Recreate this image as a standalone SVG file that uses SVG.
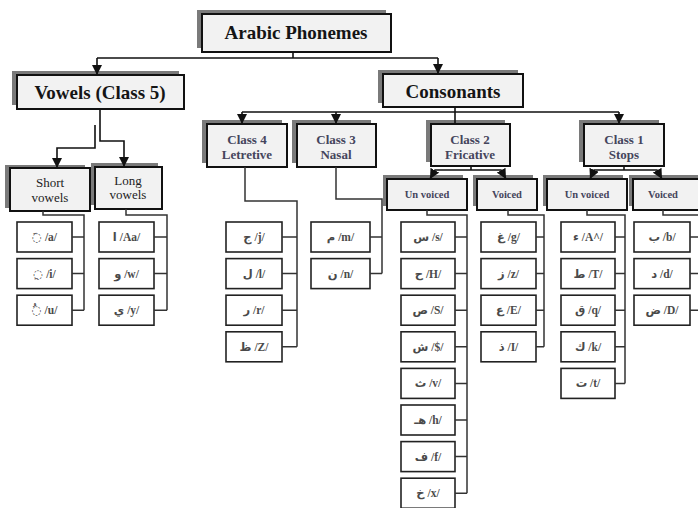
<svg xmlns="http://www.w3.org/2000/svg" width="698" height="508" viewBox="0 0 698 508">
<style>
.sh{fill:#7a7a7a}
.hb{fill:#f2f2f2;stroke:#111;stroke-width:2}
.ib{fill:#fff;stroke:#222;stroke-width:1.6}
.t1{font-family:"Liberation Serif","DejaVu Serif",serif;font-weight:bold;font-size:19px;fill:#151515;text-anchor:middle}
.t2{font-family:"Liberation Serif","DejaVu Serif",serif;font-weight:bold;font-size:13px;fill:#45455c;text-anchor:middle}
.t3{font-family:"Liberation Serif","DejaVu Serif",serif;font-size:13px;fill:#222;text-anchor:middle}
.t4{font-family:"Liberation Serif","DejaVu Serif",serif;font-weight:bold;font-size:10.5px;fill:#45455c;text-anchor:middle}
.ti{font-family:"Liberation Serif","DejaVu Sans",serif;font-weight:bold;font-size:11.5px;fill:#4a4a4a;text-anchor:middle}
.c{fill:none;stroke:#111;stroke-width:1.6}
.a{fill:none;stroke:#111;stroke-width:1.6;marker-end:url(#ar)}
.k{fill:none;stroke:#333;stroke-width:1.5}
</style>
<defs>
<marker id="ar" markerUnits="userSpaceOnUse" markerWidth="10" markerHeight="10" viewBox="0 0 10 10" refX="10" refY="5" orient="auto">
<path d="M0,0 L10,5 L0,10 z" fill="#111"/>
</marker>
</defs>
<g id="root">
<rect class="sh" x="197" y="10" width="189" height="38"/>
<rect class="hb" x="202" y="14" width="189" height="38"/>
<text class="t1" x="296" y="39">Arabic Phonemes</text>
</g>
<g id="vowels">
<rect class="sh" x="12" y="71" width="167" height="34"/>
<rect class="hb" x="17" y="75" width="167" height="34"/>
<text class="t1" x="100" y="99">Vowels (Class 5)</text>
</g>
<g id="consonants">
<rect class="sh" x="378" y="70" width="140" height="33"/>
<rect class="hb" x="383" y="74" width="140" height="33"/>
<text class="t1" x="453" y="98">Consonants</text>
</g>
<g id="short">
<rect class="sh" x="5" y="165" width="80" height="43"/>
<rect class="hb" x="10" y="168" width="80" height="43"/>
<text class="t3" x="50" y="187">Short</text>
<text class="t3" x="50" y="202">vowels</text>
</g>
<g id="long">
<rect class="sh" x="91" y="163" width="67" height="42"/>
<rect class="hb" x="95" y="167" width="67" height="42"/>
<text class="t3" x="128" y="185">Long</text>
<text class="t3" x="128" y="199">vowels</text>
</g>
<g id="class4">
<rect class="sh" x="202" y="120" width="80" height="43"/>
<rect class="hb" x="207" y="124" width="80" height="43"/>
<text class="t2" x="247" y="144">Class 4</text>
<text class="t2" x="247" y="159">Letretive</text>
</g>
<g id="class3">
<rect class="sh" x="292" y="120" width="79" height="43"/>
<rect class="hb" x="297" y="124" width="79" height="43"/>
<text class="t2" x="336" y="144">Class 3</text>
<text class="t2" x="336" y="159">Nasal</text>
</g>
<g id="class2">
<rect class="sh" x="426" y="120" width="79" height="42"/>
<rect class="hb" x="431" y="124" width="79" height="42"/>
<text class="t2" x="470" y="144">Class 2</text>
<text class="t2" x="470" y="159">Fricative</text>
</g>
<g id="class1">
<rect class="sh" x="579" y="120" width="80" height="42"/>
<rect class="hb" x="584" y="124" width="80" height="42"/>
<text class="t2" x="624" y="144">Class 1</text>
<text class="t2" x="624" y="159">Stops</text>
</g>
<g id="c2u">
<rect class="sh" x="383" y="175" width="80" height="31"/>
<rect class="hb" x="387" y="179" width="80" height="31"/>
<text class="t4" x="427" y="198">Un voiced</text>
</g>
<g id="c2v">
<rect class="sh" x="473" y="175" width="60" height="31"/>
<rect class="hb" x="477" y="179" width="60" height="31"/>
<text class="t4" x="507" y="198">Voiced</text>
</g>
<g id="c1u">
<rect class="sh" x="543" y="175" width="80" height="31"/>
<rect class="hb" x="547" y="179" width="80" height="31"/>
<text class="t4" x="587" y="198">Un voiced</text>
</g>
<g id="c1v">
<rect class="sh" x="629" y="175" width="71" height="31"/>
<rect class="hb" x="633" y="179" width="71" height="31"/>
<text class="t4" x="663" y="198">Voiced</text>
</g>
<g id="sv1"><rect class="ib" x="17" y="222" width="55" height="30"/><text class="ti" x="44.5" y="241">◌َ /a/</text></g>
<g id="sv2"><rect class="ib" x="17" y="258.6" width="55" height="30"/><text class="ti" x="44.5" y="277.6">◌ِ /i/</text></g>
<g id="sv3"><rect class="ib" x="17" y="295.2" width="55" height="30"/><text class="ti" x="44.5" y="314.2">◌ُ /u/</text></g>
<g id="lv1"><rect class="ib" x="99" y="222" width="55" height="30"/><text class="ti" x="126.5" y="241">ا /Aa/</text></g>
<g id="lv2"><rect class="ib" x="99" y="258.6" width="55" height="30"/><text class="ti" x="126.5" y="277.6">و /w/</text></g>
<g id="lv3"><rect class="ib" x="99" y="295.2" width="55" height="30"/><text class="ti" x="126.5" y="314.2">ي /y/</text></g>
<g id="c4i1"><rect class="ib" x="226" y="222" width="56" height="30"/><text class="ti" x="254" y="241">ج /j/</text></g>
<g id="c4i2"><rect class="ib" x="226" y="258.6" width="56" height="30"/><text class="ti" x="254" y="277.6">ل /l/</text></g>
<g id="c4i3"><rect class="ib" x="226" y="295.2" width="56" height="30"/><text class="ti" x="254" y="314.2">ر /r/</text></g>
<g id="c4i4"><rect class="ib" x="226" y="331.8" width="56" height="30"/><text class="ti" x="254" y="350.8">ظ /Z/</text></g>
<g id="c3i1"><rect class="ib" x="311" y="222" width="59" height="30"/><text class="ti" x="340.5" y="241">م /m/</text></g>
<g id="c3i2"><rect class="ib" x="311" y="258.6" width="59" height="30"/><text class="ti" x="340.5" y="277.6">ن /n/</text></g>
<g id="c2u1"><rect class="ib" x="401" y="222" width="54" height="30"/><text class="ti" x="428" y="241">س /s/</text></g>
<g id="c2u2"><rect class="ib" x="401" y="258.6" width="54" height="30"/><text class="ti" x="428" y="277.6">ح /H/</text></g>
<g id="c2u3"><rect class="ib" x="401" y="295.2" width="54" height="30"/><text class="ti" x="428" y="314.2">ص /S/</text></g>
<g id="c2u4"><rect class="ib" x="401" y="331.8" width="54" height="30"/><text class="ti" x="428" y="350.8">ش /$/</text></g>
<g id="c2u5"><rect class="ib" x="401" y="368.4" width="54" height="30"/><text class="ti" x="428" y="387.4">ث /v/</text></g>
<g id="c2u6"><rect class="ib" x="401" y="405" width="54" height="30"/><text class="ti" x="428" y="424">هـ /h/</text></g>
<g id="c2u7"><rect class="ib" x="401" y="441.6" width="54" height="30"/><text class="ti" x="428" y="460.6">ف /f/</text></g>
<g id="c2u8"><rect class="ib" x="401" y="478.2" width="54" height="30"/><text class="ti" x="428" y="497.2">خ /x/</text></g>
<g id="c2v1"><rect class="ib" x="481" y="222" width="55" height="30"/><text class="ti" x="508.5" y="241">غ /g/</text></g>
<g id="c2v2"><rect class="ib" x="481" y="258.6" width="55" height="30"/><text class="ti" x="508.5" y="277.6">ز /z/</text></g>
<g id="c2v3"><rect class="ib" x="481" y="295.2" width="55" height="30"/><text class="ti" x="508.5" y="314.2">ع /E/</text></g>
<g id="c2v4"><rect class="ib" x="481" y="331.8" width="55" height="30"/><text class="ti" x="508.5" y="350.8">ذ /I/</text></g>
<g id="c1u1"><rect class="ib" x="561" y="222" width="54" height="30"/><text class="ti" x="588" y="241">ء /A^/</text></g>
<g id="c1u2"><rect class="ib" x="561" y="258.6" width="54" height="30"/><text class="ti" x="588" y="277.6">ط /T/</text></g>
<g id="c1u3"><rect class="ib" x="561" y="295.2" width="54" height="30"/><text class="ti" x="588" y="314.2">ق /q/</text></g>
<g id="c1u4"><rect class="ib" x="561" y="331.8" width="54" height="30"/><text class="ti" x="588" y="350.8">ك /k/</text></g>
<g id="c1u5"><rect class="ib" x="561" y="368.4" width="54" height="30"/><text class="ti" x="588" y="387.4">ت /t/</text></g>
<g id="c1v1"><rect class="ib" x="634" y="222" width="56" height="30"/><text class="ti" x="662" y="241">ب /b/</text></g>
<g id="c1v2"><rect class="ib" x="634" y="258.6" width="56" height="30"/><text class="ti" x="662" y="277.6">د /d/</text></g>
<g id="c1v3"><rect class="ib" x="634" y="295.2" width="56" height="30"/><text class="ti" x="662" y="314.2">ض /D/</text></g>
<g id="connectors">
<path class="c" d="M293,52 V58 M97,58 H438"/>
<path class="a" d="M97,58 V75"/>
<path class="a" d="M438,58 V74"/>
<path class="c" d="M455,107 V124 M242,112 H619"/>
<path class="a" d="M242,112 V124"/>
<path class="a" d="M336,112 V124"/>
<path class="a" d="M619,112 V124"/>
<path class="a" d="M100,109 V141 H124 V167"/>
<path class="a" d="M95,125 V148 H57 V168"/>
<path class="c" d="M471,166 V170"/>
<path class="a" d="M471,170 H435 L430,179"/>
<path class="a" d="M471,170 H501 L506,179"/>
<path class="c" d="M624,166 V170"/>
<path class="a" d="M624,170 H594 L590,179"/>
<path class="a" d="M624,170 H657 L662,179"/>
<path class="k" d="M43,211 V215 H84 V310.2 M72,237 H84 M72,273.6 H84 M72,310.2 H84"/>
<path class="k" d="M126,209 V215 H167 V310.2 M154,237 H167 M154,273.6 H167 M154,310.2 H167"/>
<path class="k" d="M245,167 V201 H297 V346.8 M282,237 H297 M282,273.6 H297 M282,310.2 H297 M282,346.8 H297"/>
<path class="k" d="M336,167 V199 H382 V273.6 M370,237 H382 M370,273.6 H382"/>
<path class="k" d="M427,210 V215 H467 V493.2 M455,237 H467 M455,273.6 H467 M455,310.2 H467 M455,346.8 H467 M455,383.4 H467 M455,420 H467 M455,456.6 H467 M455,493.2 H467"/>
<path class="k" d="M508,210 V215 H544 V346.8 M536,237 H544 M536,273.6 H544 M536,310.2 H544 M536,346.8 H544"/>
<path class="k" d="M587,210 V215 H625 V383.4 M615,237 H625 M615,273.6 H625 M615,310.2 H625 M615,346.8 H625 M615,383.4 H625"/>
<path class="k" d="M663,210 V215 H702 V330 M690,237 H702 M690,273.6 H702 M690,310.2 H702"/>
</g>
</svg>
